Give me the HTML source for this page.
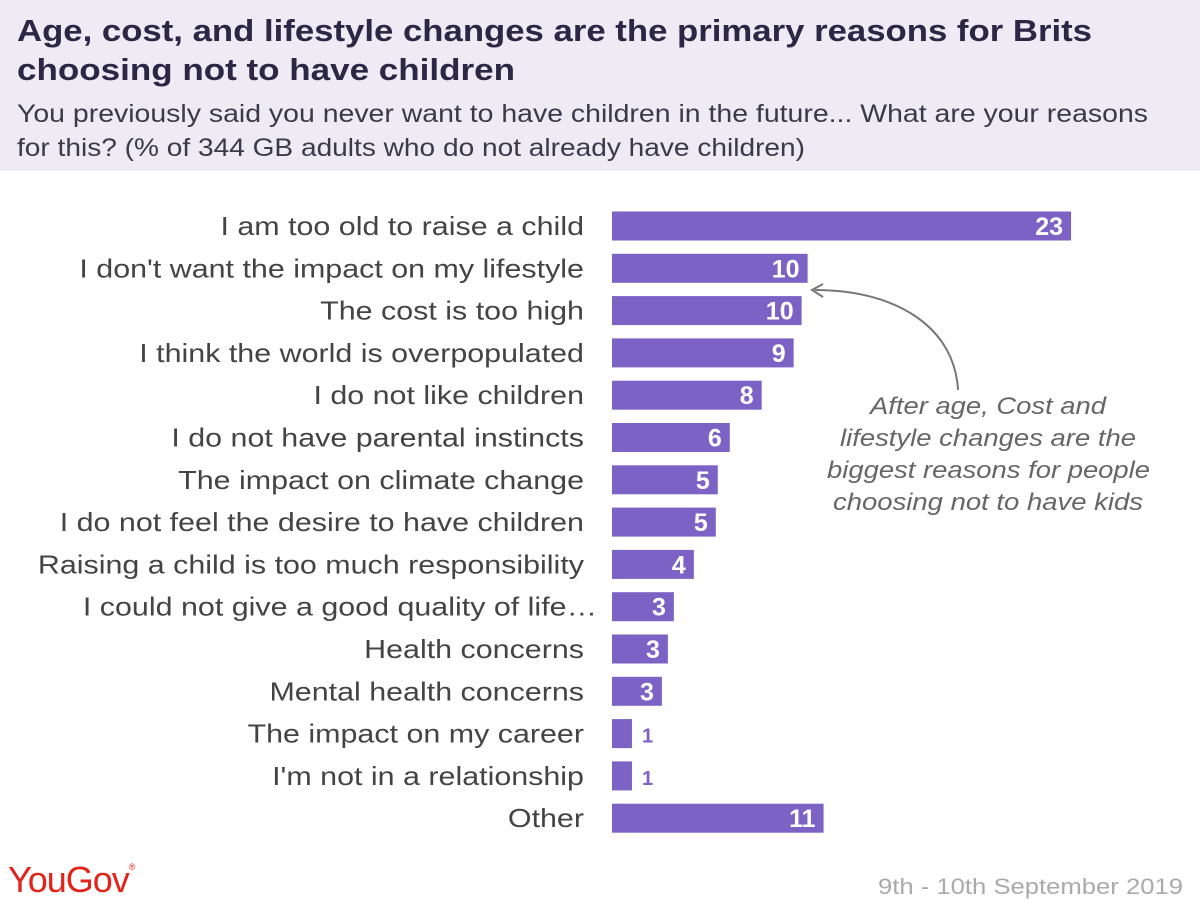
<!DOCTYPE html>
<html><head><meta charset="utf-8"><style>
body{margin:0;width:1200px;height:903px;background:#fff;overflow:hidden;font-family:"Liberation Sans",sans-serif}
</style></head><body>
<svg width="1200" height="903" xmlns="http://www.w3.org/2000/svg">
<rect x="0" y="0" width="1200" height="171" fill="#eeebf5"/>
<text x="17" y="41" font-size="31" font-weight="bold" fill="#2b2745" textLength="1075" lengthAdjust="spacingAndGlyphs">Age, cost, and lifestyle changes are the primary reasons for Brits</text>
<text x="17" y="80" font-size="31" font-weight="bold" fill="#2b2745" textLength="498" lengthAdjust="spacingAndGlyphs">choosing not to have children</text>
<text x="17" y="122" font-size="25" fill="#3a3a48" textLength="1131" lengthAdjust="spacingAndGlyphs">You previously said you never want to have children in the future... What are your reasons</text>
<text x="17" y="156" font-size="25" fill="#3a3a48" textLength="788" lengthAdjust="spacingAndGlyphs">for this? (% of 344 GB adults who do not already have children)</text>
<g id="bars"></g>
<g font-size="24" font-style="italic" fill="#666">
<text x="870" y="414" textLength="236" lengthAdjust="spacingAndGlyphs">After age, Cost and</text>
<text x="840" y="446" textLength="296" lengthAdjust="spacingAndGlyphs">lifestyle changes are the</text>
<text x="827" y="478" textLength="323" lengthAdjust="spacingAndGlyphs">biggest reasons for people</text>
<text x="833" y="510" textLength="310" lengthAdjust="spacingAndGlyphs">choosing not to have kids</text>
</g>
<path d="M958,390 C955,330 900,290 815,290" fill="none" stroke="#777" stroke-width="2"/>
<path d="M823,284 L812,290 L823,297" fill="none" stroke="#777" stroke-width="2"/>
<text x="8" y="892" font-size="36" fill="#e2231a" style="letter-spacing:-1px">YouGov<tspan font-size="9" dy="-22">®</tspan></text>
<text x="878" y="894" font-size="22" fill="#aaa" textLength="305" lengthAdjust="spacingAndGlyphs">9th - 10th September 2019</text>
</svg>
<script>
const categories=["I am too old to raise a child","I don't want the impact on my lifestyle","The cost is too high","I think the world is overpopulated","I do not like children","I do not have parental instincts","The impact on climate change","I do not feel the desire to have children","Raising a child is too much responsibility","I could not give a good quality of life…","Health concerns","Mental health concerns","The impact on my career","I'm not in a relationship","Other"];
const values=[23,9.8,9.5,9.1,7.5,5.9,5.3,5.2,4.1,3.1,2.8,2.5,1,1,10.6];
const x0=612,scale=19.96,y0=226,step=42.3,bh=29;
const xs=v=>x0+v*scale, ys=i=>y0+i*step;
const g=document.getElementById('bars');const NS="http://www.w3.org/2000/svg";
categories.forEach((c,i)=>{
 const cy=ys(i);
 const t=document.createElementNS(NS,'text');
 
 
 const right=(i===9)?597:584;
 t.setAttribute('y',cy+9);t.setAttribute('font-size','26');t.setAttribute('fill','#444');
 t.textContent=c;g.appendChild(t);
 const w=t.getComputedTextLength()*1.17;
 t.setAttribute('x',right-w);
 t.setAttribute('textLength',w);t.setAttribute('lengthAdjust','spacingAndGlyphs');
 const r=document.createElementNS(NS,'rect');
 
 
 r.setAttribute('x',x0);r.setAttribute('y',cy-bh/2);r.setAttribute('width',xs(values[i])-x0);r.setAttribute('height',bh);r.setAttribute('fill','#7b62c4');
 g.appendChild(r);
 const v=document.createElementNS(NS,'text');
 
 
 const inside=values[i]>=2;
 v.setAttribute('x',inside?xs(values[i])-8:xs(values[i])+10);
 v.setAttribute('y',cy+9);v.setAttribute('font-size',inside?'25':'20');v.setAttribute('font-weight','bold');
 v.setAttribute('fill',inside?'#fff':'#7b62c4');v.setAttribute('text-anchor',inside?'end':'start');
 v.textContent=Math.round(values[i]);g.appendChild(v);
});
</script>
</body></html>
